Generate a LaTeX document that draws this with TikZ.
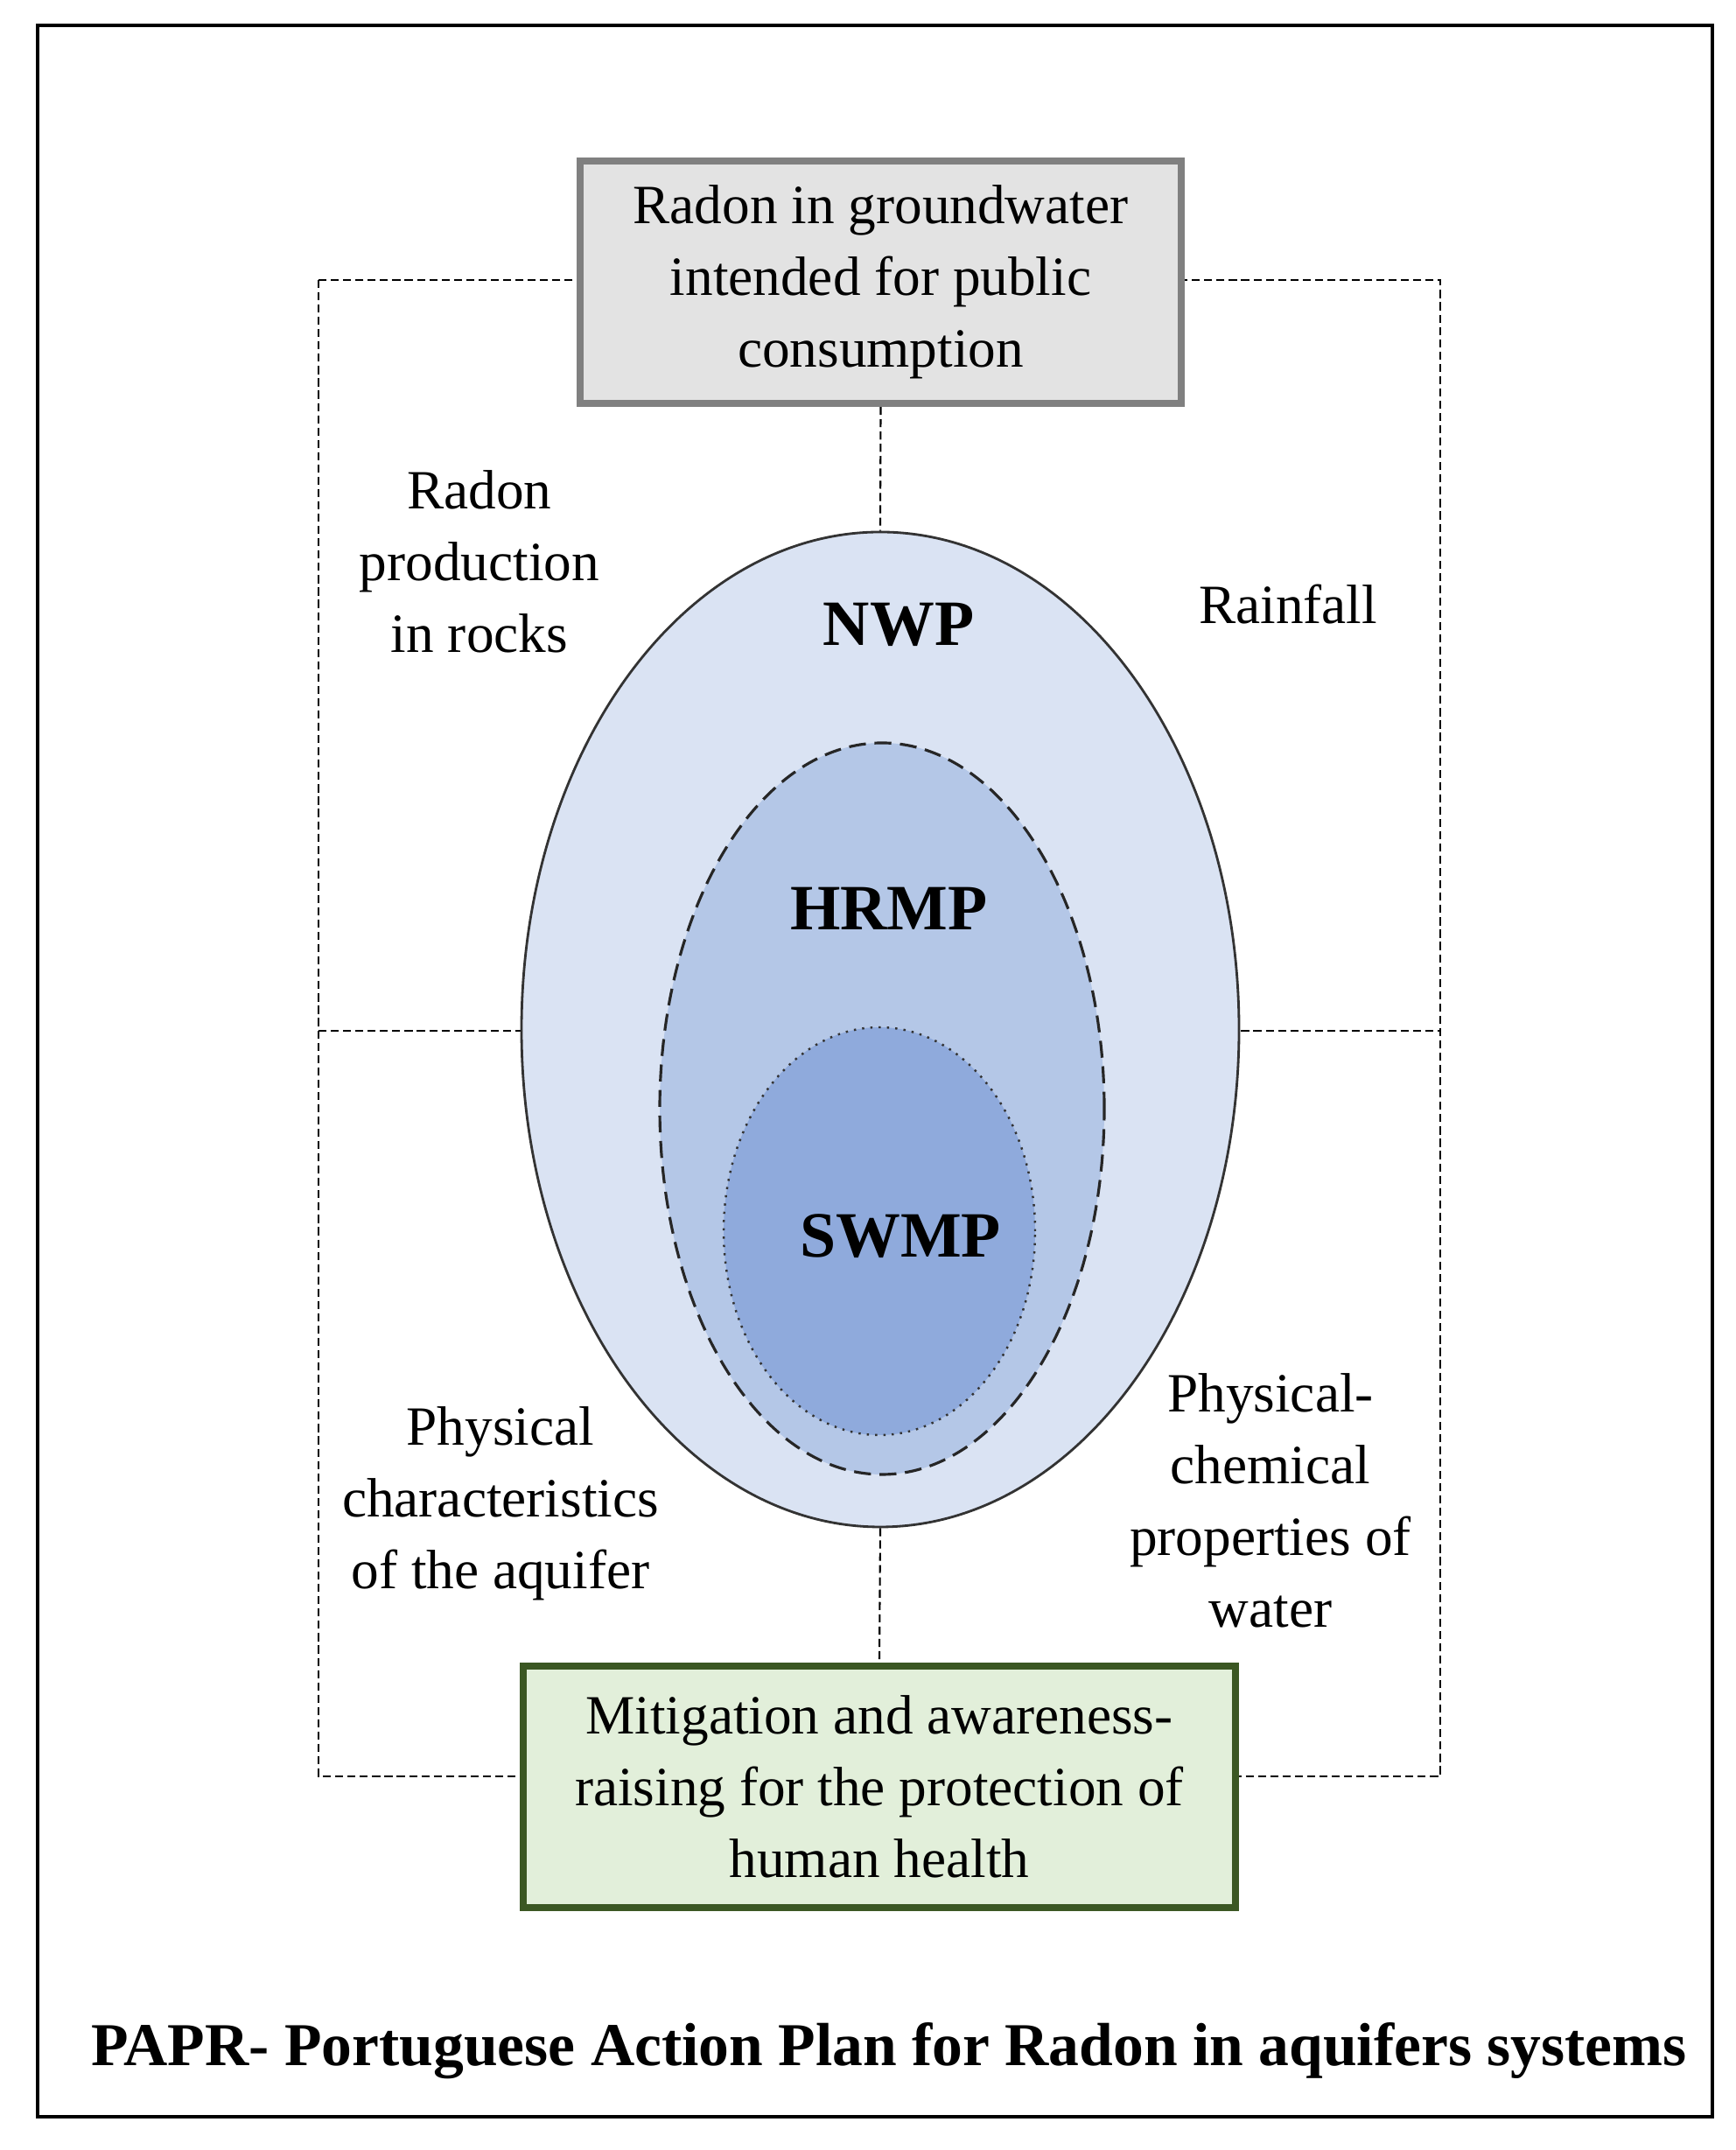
\documentclass[tikz,border=0pt]{standalone}
\usepackage{fontspec}
\setmainfont{Liberation Serif}
\usetikzlibrary{shapes.geometric}

\definecolor{boxgray}{HTML}{E3E3E3}
\definecolor{boxedge}{HTML}{808080}
\definecolor{boxgreen}{HTML}{E2EFDA}
\definecolor{edgegreen}{HTML}{3B5723}
\definecolor{nwpblue}{HTML}{DAE3F3}
\definecolor{hrmpblue}{HTML}{B4C7E7}
\definecolor{swmpblue}{HTML}{8FAADC}

\tikzset{
    frame/.style={line width=0.6pt, dash pattern=on 2.6pt off 1.4pt},
    lbl/.style={align=center, font=\fontsize{18}{23.3}\selectfont},
    zone/.style={ellipse, inner sep=0pt},
    tag/.style={font=\fontsize{21}{24}\selectfont\bfseries}
}

\begin{document}
\begin{tikzpicture}
    % Page and outer border
    \useasboundingbox (0,0) rectangle (19.84,24.57);
    \draw[line width=1pt] (0.43,0.38) rectangle (19.57,24.28);

    % Dashed frame (behind boxes and ellipses)
    \coordinate (ftl) at (3.64,21.37);
    \coordinate (fbr) at (16.46,4.27);
    \coordinate (fml) at (3.64,12.79);
    \coordinate (fmr) at (16.46,12.79);
    \draw[frame] (ftl) rectangle (fbr);
    \draw[frame] (fml) -- (fmr);

    % Nested ellipses
    \node[zone, draw=black!80, line width=0.8pt, fill=nwpblue,
          minimum width=8.2cm, minimum height=11.37cm] (nwp) at (10.06,12.805) {};
    \node[zone, draw=black!85, line width=0.9pt, dash pattern=on 5.5pt off 2.8pt, fill=hrmpblue,
          minimum width=5.08cm, minimum height=8.36cm] (hrmp) at (10.08,11.90) {};
    \node[zone, draw=black!80, line width=0.7pt, dotted, fill=swmpblue,
          minimum width=3.56cm, minimum height=4.66cm] (swmp) at (10.05,10.50) {};

    \node[tag] (nwptag) at (10.27,17.43) {NWP};
    \node[tag] (hrmptag) at (10.16,14.19) {HRMP};
    \node[tag] (swmptag) at (10.29,10.44) {SWMP};

    % Top and bottom boxes
    \node[lbl, draw=boxedge, line width=2.3pt, fill=boxgray,
          minimum width=6.87cm, minimum height=2.77cm] (radon) at (10.065,21.345)
          {Radon in groundwater\\intended for public\\consumption};
    \node[lbl, draw=edgegreen, line width=2.3pt, fill=boxgreen,
          minimum width=8.14cm, minimum height=2.76cm] (mitig) at (10.05,4.15)
          {Mitigation and awareness-\\raising for the protection of\\human health};

    \draw[frame] (radon.south) -- (nwp.north);
    \draw[frame] (nwp.south) -- (mitig.north);

    % Factors in the four quarters
    \node[lbl] (prod) at (5.48,18.15) {Radon\\production\\in rocks};
    \node[lbl] (rain) at (14.72,17.66) {Rainfall};
    \node[lbl] (phys) at (5.72,7.39) {Physical\\characteristics\\of the aquifer};
    \node[lbl] (chem) at (14.52,7.42) {Physical-\\chemical\\properties of\\water};

    % Caption
    \node[font=\fontsize{19.8}{23}\selectfont\bfseries] (title) at (10.16,1.13)
          {PAPR- Portuguese Action Plan for Radon in aquifers systems};
\end{tikzpicture}
\end{document}
